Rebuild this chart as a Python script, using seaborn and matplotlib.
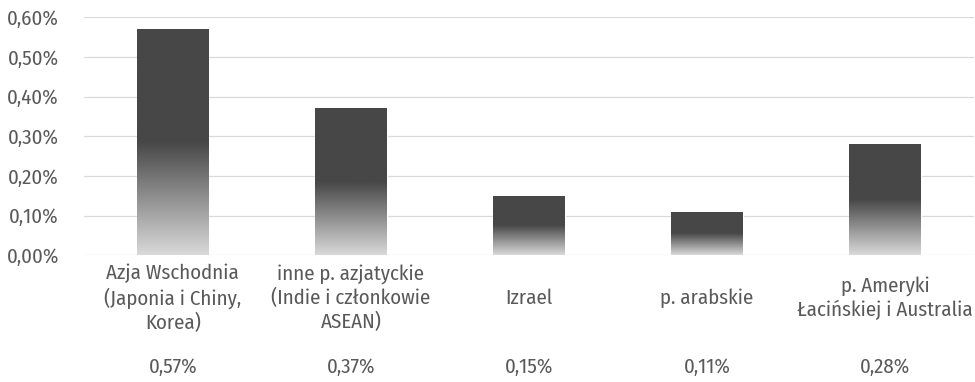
import matplotlib.pyplot as plt
import numpy as np
import pandas as pd
import seaborn as sns
from matplotlib.ticker import FuncFormatter

CATEGORIES = ['Azja Wschodnia\n(Japonia i Chiny,\nKorea)',
              'inne p. azjatyckie\n(Indie i członkowie\nASEAN)',
              'Izrael',
              'p. arabskie',
              'p. Ameryki\nŁacińskiej i Australia']
VALUES = [0.57, 0.37, 0.15, 0.11, 0.28]
TEXT = '#595959'

sns.set_theme(style='white')
plt.rcParams['font.family'] = ['Fira Sans Condensed', 'PT Sans Narrow', 'Roboto Condensed',
                               'Sofia Sans Semi Condensed', 'DejaVu Sans']

df = pd.DataFrame({'cat': CATEGORIES, 'val': VALUES})

fig = plt.figure(figsize=(9.75, 3.82), dpi=100)
ax = fig.add_axes([0.086, 0.332, 0.913, 0.623])
sns.barplot(data=df, x='cat', y='val', ax=ax, width=0.4, color='#474747')

ax.set_ylim(0, 0.6)
ax.set_yticks(np.arange(0, 0.61, 0.1))
ax.yaxis.set_major_formatter(FuncFormatter(lambda v, p: f'{v:.2f}%'.replace('.', ',')))
ax.grid(axis='y', color='#d9d9d9', linewidth=0.9)
ax.set_axisbelow(True)
for s in ax.spines.values():
    s.set_visible(False)
ax.tick_params(axis='y', labelsize=15, colors=TEXT, length=0, pad=18)
ax.set_xticks([])
ax.set_xlabel('')
ax.set_ylabel('')

# gradient fill: light at bottom, dark from the middle upward
cmap = plt.matplotlib.colors.LinearSegmentedColormap.from_list(
    'g', [(0, '#d9d9d9'), (0.5, '#474747'), (1, '#474747')])
grad = np.linspace(0, 1, 256).reshape(-1, 1)
for patch in ax.patches:
    x0, w, h = patch.get_x(), patch.get_width(), patch.get_height()
    im = ax.imshow(grad, cmap=cmap, origin='lower', aspect='auto',
                   extent=[x0, x0 + w, 0, h], zorder=3)
    im.set_clip_path(patch)
    patch.set_facecolor('none')
ax.set_xlim(-0.5, len(CATEGORIES) - 0.5)
ax.set_ylim(0, 0.6)

trans = ax.get_xaxis_transform()
for i, (c, v) in enumerate(zip(CATEGORIES, VALUES)):
    ax.text(i, -0.18, c, transform=trans, ha='center', va='center',
            fontsize=15, color=TEXT, linespacing=1.25, clip_on=False)
    ax.text(i, -0.47, f'{v:.2f}%'.replace('.', ','), transform=trans,
            ha='center', va='center', fontsize=15, color=TEXT, clip_on=False)

fig.savefig('out.png', dpi=100)
